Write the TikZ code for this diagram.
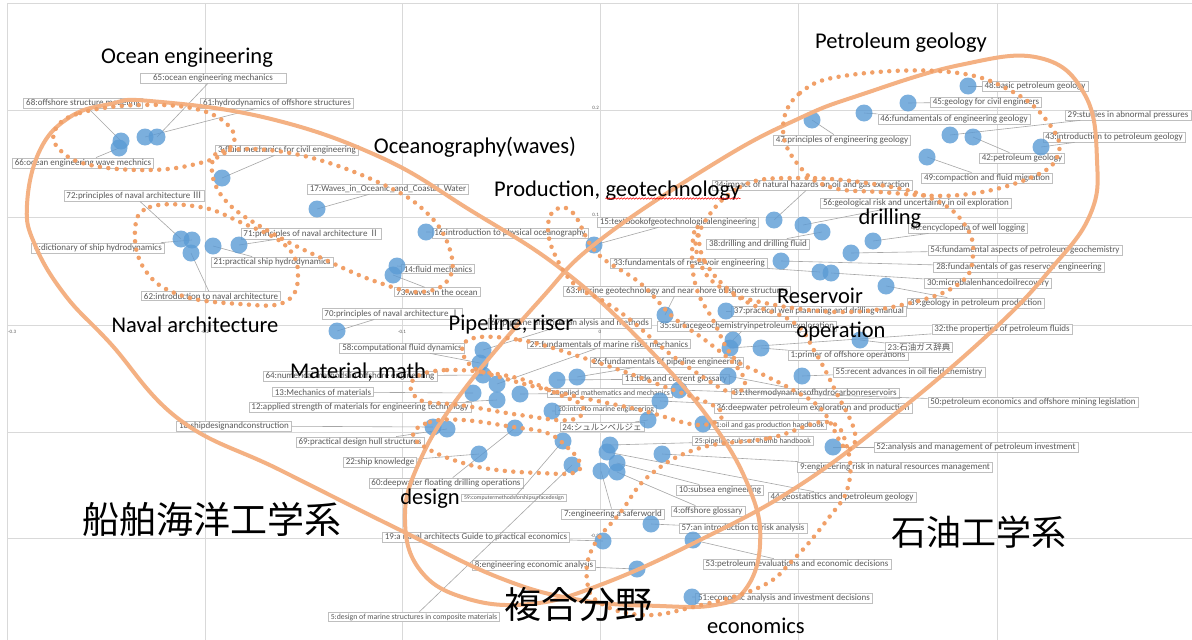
\documentclass[tikz,border=0pt]{standalone}
\usepackage{fontspec}
\setmainfont{Carlito}
\newfontfamily\jpfont{Noto Sans CJK JP}
\usetikzlibrary{decorations.pathmorphing}
\definecolor{gridgray}{RGB}{217,217,217}
\definecolor{boxgray}{RGB}{191,191,191}
\definecolor{textgray}{RGB}{89,89,89}
\definecolor{leadgray}{RGB}{166,166,166}
\definecolor{dotblue}{RGB}{91,155,213}
\definecolor{loopline}{RGB}{244,177,131}
\definecolor{loopdot}{RGB}{241,160,104}
\tikzset{
  booklabel/.style={draw=boxgray, fill=white, text=textgray, line width=0.6pt,
    font=\fontsize{9}{10}\selectfont, inner xsep=2.5pt, inner ysep=1.2pt},
  smalllabel/.style={booklabel, font=\fontsize{7.7}{9}\selectfont},
  tinylabel/.style={booklabel, font=\fontsize{5.8}{7}\selectfont, inner ysep=1pt},
  leader/.style={draw=leadgray, line width=0.6pt},
  bookdot/.style={fill=dotblue, fill opacity=0.8},
  fieldtext/.style={font=\fontsize{22.5}{26}\selectfont, inner sep=0pt},
  jptext/.style={font=\jpfont\fontsize{37}{40}\selectfont, inner sep=0pt},
  fieldloop/.style={draw=loopline, line width=4pt},
  subloop/.style={draw=loopdot, line width=4.5pt, line cap=round, dash pattern=on 0pt off 8.5pt},
  gridline/.style={draw=gridgray, line width=0.75pt},
  ticklabel/.style={font=\fontsize{5}{6}\selectfont, text=textgray, inner sep=1pt},
  spellwave/.style={draw=red, line width=0.5pt, decorate,
    decoration={snake, amplitude=0.8pt, segment length=3pt}}
}
\begin{document}
\begin{tikzpicture}[x=1pt,y=-1pt]
\useasboundingbox[fill=white] (0,0) rectangle (1192,640);

% grid of the scatter chart
\foreach \gx in {7,205,402,600,798,997} \draw[gridline] (\gx,3) -- (\gx,640);
\foreach \gy in {3,110,217,325,432,538} \draw[gridline] (7,\gy) -- (1192,\gy);
\node[ticklabel, anchor=west] at (7,332) {-0.3};
\node[ticklabel] at (205,332) {-0.2};
\node[ticklabel] at (402,332) {-0.1};
\node[ticklabel] at (600,332) {0};
\node[ticklabel] at (798,332) {0.1};
\node[ticklabel] at (997,332) {0.2};
\node[ticklabel, anchor=east] at (600,108) {0.2};
\node[ticklabel, anchor=east] at (600,215) {0.1};
\node[ticklabel, anchor=east] at (600,430) {-0.1};
\node[ticklabel, anchor=east] at (600,536) {-0.2};

% book positions
\coordinate (p1) at (761,348);  \coordinate (p2) at (520,394);  \coordinate (p3) at (222,178);
\coordinate (p4) at (617,472);  \coordinate (p5) at (572,465);  \coordinate (p6) at (192,240);
\coordinate (p7) at (601,471);  \coordinate (p8) at (637,569);  \coordinate (p9) at (662,454);
\coordinate (p10) at (617,463); \coordinate (p11) at (557,380); \coordinate (p12) at (497,400);
\coordinate (p13) at (473,393); \coordinate (p14) at (397,266); \coordinate (p15) at (594,245);
\coordinate (p16) at (426,232); \coordinate (p17) at (317,209); \coordinate (p18) at (433,427);
\coordinate (p19) at (603,541); \coordinate (p20) at (552,411); \coordinate (p21) at (213,246);
\coordinate (p22) at (479,454); \coordinate (p23) at (860,340); \coordinate (p24) at (648,420);
\coordinate (p25) at (610,445); \coordinate (p26) at (577,377); \coordinate (p27) at (497,384);
\coordinate (p28) at (781,261); \coordinate (p29) at (950,135); \coordinate (p30) at (831,273);
\coordinate (p31) at (728,376); \coordinate (p32) at (730,348); \coordinate (p33) at (820,272);
\coordinate (p34) at (774,220); \coordinate (p35) at (733,340); \coordinate (p36) at (660,401);
\coordinate (p37) at (726,311); \coordinate (p38) at (822,232); \coordinate (p39) at (886,286);
\coordinate (p40) at (873,241); \coordinate (p41) at (703,424); \coordinate (p42) at (973,137);
\coordinate (p43) at (1041,147);\coordinate (p44) at (607,452); \coordinate (p45) at (908,103);
\coordinate (p46) at (864,113); \coordinate (p47) at (812,120); \coordinate (p48) at (968,86);
\coordinate (p49) at (927,157); \coordinate (p50) at (679,390); \coordinate (p51) at (692,597);
\coordinate (p52) at (833,447); \coordinate (p53) at (693,540); \coordinate (p54) at (851,253);
\coordinate (p55) at (802,376); \coordinate (p56) at (803,225); \coordinate (p57) at (651,524);
\coordinate (p58) at (480,363); \coordinate (p59) at (563,441); \coordinate (p60) at (515,428);
\coordinate (p61) at (145,137); \coordinate (p62) at (191,253); \coordinate (p63) at (665,315);
\coordinate (p64) at (483,375); \coordinate (p65) at (157,137); \coordinate (p66) at (119,148);
\coordinate (p67) at (483,350); \coordinate (p68) at (121,141); \coordinate (p69) at (447,429);
\coordinate (p70) at (337,331); \coordinate (p71) at (239,245); \coordinate (p72) at (181,239);
\coordinate (p73) at (393,275);

% book labels
\node[booklabel] (l1) at (848,355) {1:primer of offshore operations};
\node[smalllabel] (l2) at (610,393) {2:applied mathematics and mechanics};
\node[booklabel] (l3) at (287,150) {3:fluid mechanics for civil engineering};
\node[booklabel] (l4) at (708,511) {4:offshore glossary};
\node[booklabel, font=\fontsize{7.8}{9}\selectfont] (l5) at (414,617) {5:design of marine structures in composite materials};
\node[booklabel] (l6) at (98,248) {6:dictionary of ship hydrodynamics};
\node[booklabel] (l7) at (613,514) {7:engineering a saferworld};
\node[booklabel] (l8) at (534,565) {8:engineering economic analysis};
\node[booklabel] (l9) at (895,467) {9:engineering risk in natural resources management};
\node[booklabel] (l10) at (720,490) {10:subsea engineering};
\node[booklabel] (l11) at (676,379) {11:tide and current glossary};
\node[booklabel] (l12) at (360,407) {12:applied strength of materials for engineering technology};
\node[booklabel] (l13) at (323,392) {13:Mechanics of materials};
\node[booklabel] (l14) at (438,269) {14:fluid mechanics};
\node[booklabel] (l15) at (678,222) {15:textbookofgeotechnologicalengineering};
\node[booklabel] (l16) at (510,233) {16:introduction to physical oceanography};
\node[booklabel] (l17) at (388,189) {17:Waves\_in\_Oceanic\_and\_Coastal\_Water};
\node[booklabel] (l18) at (234,426) {18:shipdesignandconstruction};
\node[booklabel] (l19) at (476,537) {19:a naval architects Guide to practical economics};
\node[smalllabel] (l20) at (606,410) {20:intro to marine engineering};
\node[booklabel] (l21) at (272,262) {21:practical ship hydrodynamics};
\node[booklabel] (l22) at (380,462) {22:ship knowledge};
\node[booklabel] (l23) at (919,347) {23:{\jpfont\fontsize{8.5}{10}\selectfont 石油ガス辞典}};
\node[booklabel] (l24) at (602,427) {24:{\jpfont\fontsize{8.5}{10}\selectfont シュルンベルジェ}};
\node[smalllabel] (l25) at (753,441) {25:pipeline rules of thumb handbook};
\node[booklabel] (l26) at (667,362) {26:fundamentals of pipeline engineering};
\node[booklabel] (l27) at (609,344) {27:fundamentals of marine riser mechanics};
\node[booklabel] (l28) at (1019,267) {28:fundamentals of gas reservoir engineering};
\node[booklabel] (l29) at (1128,115) {29:studies in abnormal pressures};
\node[booklabel] (l30) at (988,283) {30:microbialenhancedoilrecovery};
\node[booklabel] (l31) at (815,393) {31:thermodynamicsofhydrocarbonreservoirs};
\node[booklabel] (l32) at (1002,329) {32:the properties of petroleum fluids};
\node[booklabel] (l33) at (689,263) {33:fundamentals of reservoir engineering};
\node[booklabel] (l34) at (812,185) {34:impact of natural hazards on oil and gas extraction};
\node[booklabel] (l35) at (747,326) {35:surfacegeochemistryinpetroleumexploration};
\node[booklabel] (l36) at (813,408) {36:deepwater petroleum exploration and production};
\node[booklabel] (l37) at (819,311) {37:practical well plannning and drilling manual};
\node[booklabel] (l38) at (758,244) {38:drilling and drilling fluid};
\node[booklabel] (l39) at (976,303) {39:geology in petroleum production};
\node[booklabel] (l40) at (968,228) {40:encyclopedia of well logging};
\node[smalllabel] (l41) at (768,425) {41:oil and gas production handbook};
\node[booklabel] (l42) at (1022,158) {42:petroleum geology};
\node[booklabel] (l43) at (1114,137) {43:introduction to petroleum geology};
\node[booklabel] (l44) at (842,497) {44:geostatistics and petroleum geology};
\node[booklabel] (l45) at (986,102) {45:geology for civil engineers};
\node[booklabel] (l46) at (954,119) {46:fundamentals of engineering geology};
\node[booklabel] (l47) at (842,140) {47:principles of engineering geology};
\node[booklabel] (l48) at (1035,86) {48:basic petroleum geology};
\node[booklabel] (l49) at (987,178) {49:compaction and fluid migration};
\node[booklabel] (l50) at (1033,402) {50:petroleum economics and offshore mining legislation};
\node[booklabel] (l51) at (784,598) {51:economic analysis and investment decisions};
\node[booklabel] (l52) at (976,447) {52:analysis and management of petroleum investment};
\node[booklabel] (l53) at (797,564) {53:petroleum evaluations and economic decisions};
\node[booklabel] (l54) at (1025,250) {54:fundamental aspects of petroleum geochemistry};
\node[booklabel] (l55) at (909,372) {55:recent advances in oil field chemistry};
\node[booklabel] (l56) at (916,203) {56:geological risk and uncertainty in oil exploration};
\node[booklabel] (l57) at (743,528) {57:an introduction to risk analysis};
\node[booklabel] (l58) at (402,348) {58:computational fluid dynamics};
\node[tinylabel] (l59) at (514,498) {59:computermethodsforshipsurfacedesign};
\node[booklabel] (l60) at (446,483) {60:deepwater floating drilling operations};
\node[booklabel] (l61) at (277,103) {61:hydrodynamics of offshore structures};
\node[booklabel] (l62) at (211,296) {62:introduction to naval architecture};
\node[booklabel] (l63) at (677,291) {63:marine geotechnology and near shore offshore structures};
\node[booklabel] (l64) at (350,376) {64:numerical methods in offshore engineering};
\node[booklabel, minimum width=146pt] (l65) at (213,78) {65:ocean engineering mechanics};
\node[booklabel] (l66) at (83,163) {66:ocean engineering wave mechnics};
\node[booklabel] (l67) at (570,323) {67:pipeline and riser an alysis and methods};
\node[booklabel] (l68) at (83,103) {68:offshore structure modeling};
\node[booklabel] (l69) at (360,442) {69:practical design hull structures};
\node[booklabel] (l70) at (392,314) {70:principles of naval architecture {\jpfont Ⅰ}};
\node[booklabel] (l71) at (311,234) {71:principles of naval architecture {\jpfont Ⅱ}};
\node[booklabel] (l72) at (134,196) {72:principles of naval architecture {\jpfont Ⅲ}};
\node[booklabel] (l73) at (437,292) {73:waves in the ocean};

% leader lines and book dots
\foreach \b in {1,...,73} \draw[leader] (l\b) -- (p\b);
\foreach \b in {1,...,73} \fill[bookdot] (p\b) circle[radius=8.5pt];

% field outlines (solid)
\draw[fieldloop] plot[smooth cycle, tension=0.7] coordinates {
  (27,205) (40,150) (70,117) (110,104) (150,101) (267,118) (380,157) (470,210)
  (560,268) (640,340) (710,420) (750,490) (760,545) (745,590) (715,605) (660,606)
  (580,600) (500,578) (400,530) (280,470) (180,420) (110,343) (65,295) (35,245)};
\draw[fieldloop] plot[smooth cycle, tension=0.7] coordinates {
  (405,520) (418,465) (460,395) (540,300) (600,240) (720,160) (800,118) (860,95)
  (960,65) (1040,58) (1085,95) (1097,160) (1090,215) (1050,270) (993,330) (900,410)
  (800,485) (700,540) (600,585) (530,604) (465,598) (420,570)};

% topic outlines (dotted)
\draw[subloop] plot[smooth cycle, tension=0.7] coordinates {
  (55,130) (80,113) (140,105) (200,110) (232,130) (228,150) (200,163) (150,170) (90,165) (60,150)};
\draw[subloop] plot[smooth cycle, tension=0.7] coordinates {
  (212,165) (230,150) (300,155) (380,183) (427,213) (450,250) (448,280) (420,292)
  (380,283) (330,262) (270,232) (225,200)};
\draw[subloop] plot[smooth cycle, tension=0.7] coordinates {
  (135,230) (150,207) (200,207) (240,222) (285,245) (298,275) (285,302) (240,304) (180,295) (145,270)};
\draw[subloop] plot[smooth cycle, tension=0.7] coordinates {
  (783,130) (800,93) (850,75) (950,72) (1013,92) (1050,125) (1058,155) (1030,178)
  (960,195) (880,192) (830,187) (800,167)};
\draw[subloop] plot[smooth cycle, tension=0.7] coordinates {
  (700,230) (740,187) (800,178) (880,185) (935,200) (965,225) (973,255) (960,283)
  (910,303) (840,312) (760,302) (720,287) (700,262)};
\draw[subloop] plot[smooth cycle, tension=0.7] coordinates {
  (555,210) (573,213) (597,253) (640,283) (673,317) (705,340) (735,365) (745,385)
  (730,392) (700,375) (665,350) (633,322) (605,302) (575,285) (555,255) (548,228)};
\draw[subloop] plot[smooth cycle, tension=0.7] coordinates {
  (697,226) (705,262) (740,298) (793,322) (815,352) (835,390) (855,433) (845,448)
  (822,410) (793,390) (760,373) (733,357) (713,320) (697,290) (692,255)};
\draw[subloop] plot[smooth cycle, tension=0.7] coordinates {
  (468,340) (520,340) (590,360) (660,385) (720,410) (700,425) (640,410) (570,395) (510,380) (470,365)};
\draw[subloop] plot[smooth cycle, tension=0.7] coordinates {
  (413,380) (447,370) (513,377) (560,395) (583,407) (570,420) (520,415) (460,405) (420,400)};
\draw[subloop] plot[smooth cycle, tension=0.7] coordinates {
  (413,435) (430,422) (463,420) (513,427) (547,433) (567,447) (580,463) (573,473)
  (540,473) (497,470) (463,463) (430,450)};
\draw[subloop] plot[smooth cycle, tension=0.7] coordinates {
  (700,448) (770,438) (827,422) (847,447) (848,487) (827,520) (793,560) (760,587)
  (693,607) (643,615) (600,603) (587,580) (593,547) (620,513) (650,475)};

% topic and field names
\node[fieldtext] (tocean) at (187,58) {Ocean engineering};
\node[fieldtext] (tpetgeo) at (901,43) {Petroleum geology};
\node[fieldtext] (toceanog) at (475,147) {Oceanography(waves)};
\node[fieldtext, anchor=base west] (tprod) at (494,196) {Production,};
\node[fieldtext, anchor=base west] (tgeotech) at ([xshift=5pt]tprod.base east) {geotechnology};
\draw[spellwave] ([yshift=-2.5pt]tgeotech.base west) -- ([yshift=-2.5pt]tgeotech.base east);
\node[fieldtext] (tdrill) at (890,219) {drilling};
\node[fieldtext] (tnaval) at (195,325) {Naval architecture};
\node[fieldtext] (tpipe) at (511,324) {Pipeline, riser};
\node[fieldtext] (tmat) at (358,372) {Material, math};
\node[fieldtext] (tres) at (820,296) {Reservoir};
\node[fieldtext] (toper) at (841,332) {operation};
\node[fieldtext] (tdesign) at (430,499) {design};
\node[fieldtext] (tecon) at (756,626) {economics};
\node[jptext] (tship) at (212,519) {船舶海洋工学系};
\node[jptext, font=\jpfont\fontsize{35}{38}\selectfont] (toil) at (979,532) {石油工学系};
\node[jptext] (tmixed) at (578,605) {複合分野};
\end{tikzpicture}
\end{document}
